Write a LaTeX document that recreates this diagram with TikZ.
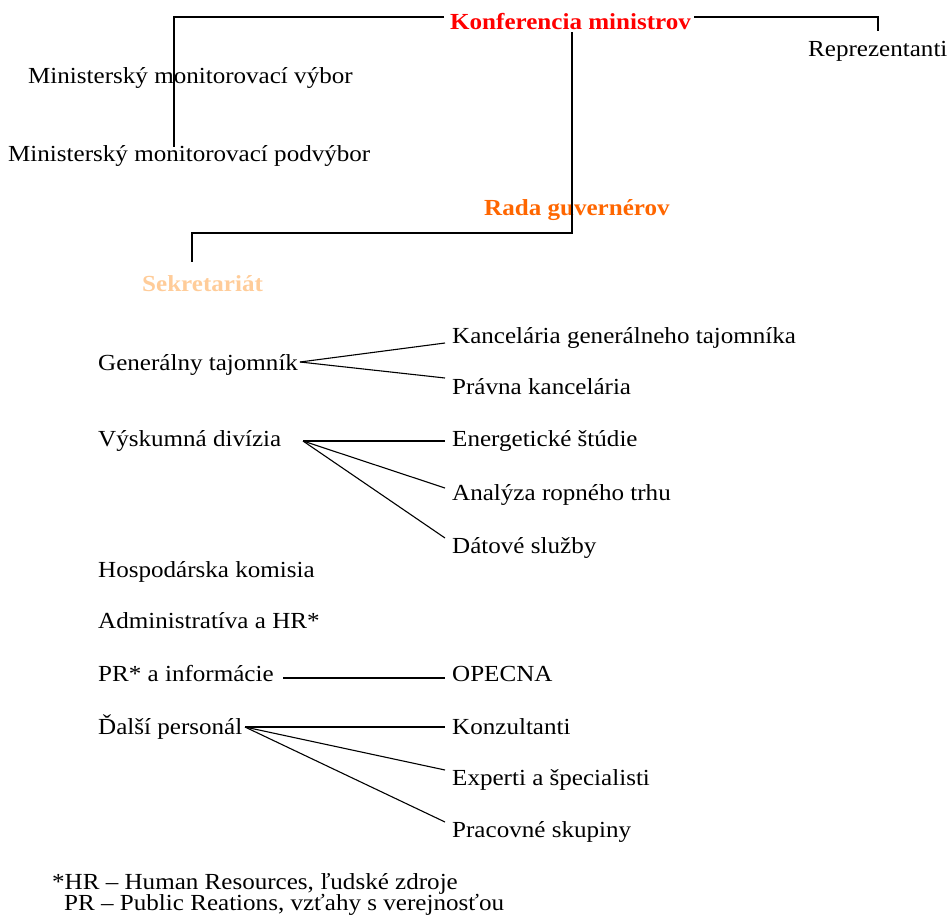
\documentclass[tikz,border=0pt]{standalone}
\usepackage{fontspec}
\setmainfont[FakeStretch=1.09]{Liberation Serif}
\definecolor{konf}{HTML}{FF0000}
\definecolor{rada}{HTML}{FF6600}
\definecolor{sekr}{HTML}{FFCC99}
\begin{document}
\begin{tikzpicture}[x=1pt,y=-1pt,
  lbl/.style={font=\fontsize{23}{25}\selectfont,inner sep=0pt,anchor=base west},
  head/.style={lbl,font=\fontsize{23}{25}\selectfont\bfseries},
  conn/.style={draw=black,line width=1.1pt}]
\useasboundingbox (0,0) rectangle (947,918);
% nodes
\node[head,text=konf] (km) at (450,29) {Konferencia ministrov};
\node[lbl] (rep) at (808,56) {Reprezentanti};
\node[lbl] (mmv) at (28,83) {Ministerský monitorovací výbor};
\node[lbl] (mmp) at (8,161) {Ministerský monitorovací podvýbor};
\node[head,text=rada] (rg) at (484,215) {Rada guvernérov};
\node[head,text=sekr] (sek) at (142,291) {Sekretariát};
\node[lbl] (gt) at (98,370) {Generálny tajomník};
\node[lbl] (kgt) at (452,343) {Kancelária generálneho tajomníka};
\node[lbl] (pk) at (452,394) {Právna kancelária};
\node[lbl] (vd) at (98,446) {Výskumná divízia};
\node[lbl] (es) at (452,446) {Energetické štúdie};
\node[lbl] (ar) at (452,500) {Analýza ropného trhu};
\node[lbl] (ds) at (452,553) {Dátové služby};
\node[lbl] (hk) at (98,577) {Hospodárska komisia};
\node[lbl] (ad) at (98,628) {Administratíva a HR*};
\node[lbl] (pr) at (98,681) {PR* a informácie};
\node[lbl] (op) at (452,681) {OPECNA};
\node[lbl] (dp) at (98,734) {Ďalší personál};
\node[lbl] (ko) at (452,734) {Konzultanti};
\node[lbl] (ex) at (452,785) {Experti a špecialisti};
\node[lbl] (ps) at (452,837) {Pracovné skupiny};
\node[lbl] (fn1) at (52,889) {*HR – Human Resources, ľudské zdroje};
\node[lbl] (fn2) at (64,910) {PR – Public Reations, vzťahy s verejnosťou};
% connector points
\coordinate (kmL) at (444,17);
\coordinate (mmpT) at (174,147);
\coordinate (kmR) at (694,17);
\coordinate (repT) at (878,31);
\coordinate (kmB) at (572,32);
\coordinate (rgB) at (572,233);
\coordinate (sekT) at (192,262);
\coordinate (gtE) at (300,362);
\coordinate (kgtW) at (445,343);
\coordinate (pkW) at (445,378);
\coordinate (vdE) at (303,441);
\coordinate (esW) at (445,441);
\coordinate (arW) at (445,488);
\coordinate (dsW) at (445,538);
\coordinate (prE) at (283,678);
\coordinate (opW) at (445,678);
\coordinate (dpE) at (245,727);
\coordinate (koW) at (445,727);
\coordinate (exW) at (445,770);
\coordinate (psW) at (445,822);
% connectors
\draw[conn] (kmL) -| (mmpT);
\draw[conn] (kmR) -| (repT);
\draw[conn] (kmB) -- (rgB) -| (sekT);
\draw[conn] (gtE) -- (kgtW);
\draw[conn] (gtE) -- (pkW);
\draw[conn] (vdE) -- (esW);
\draw[conn] (vdE) -- (arW);
\draw[conn] (vdE) -- (dsW);
\draw[conn] (prE) -- (opW);
\draw[conn] (dpE) -- (koW);
\draw[conn] (dpE) -- (exW);
\draw[conn] (dpE) -- (psW);
\end{tikzpicture}
\end{document}
